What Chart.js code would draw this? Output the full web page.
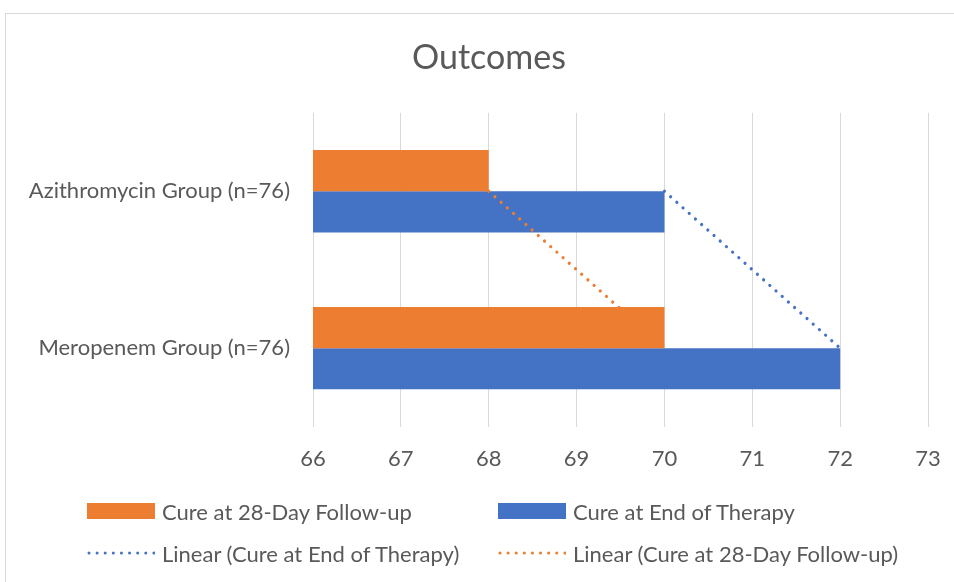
<!DOCTYPE html>
<html>
<head>
<meta charset="utf-8">
<script src="https://cdn.jsdelivr.net/npm/chart.js@4.4.1/dist/chart.umd.min.js"></script>
<style>
    html, body { margin: 0; padding: 0; background: #fff; overflow: hidden; }
    body { width: 954px; height: 582px; position: relative; font-family: Lato, sans-serif; }
    #box { position: absolute; left: 5px; top: 13px; width: 966px; height: 580px; border: 1px solid #d9d9d9; }
    #chart { position: absolute; left: 0; top: 0; }
    .item { position: absolute; height: 26px; display: flex; align-items: center; color: #595959; font-size: 22px; white-space: nowrap; }
    .item .swatch { width: 68px; height: 16px; margin-right: 7px; }
    .item svg { margin-right: 7px; }
</style>
</head>
<body>
<div id="box">
    <canvas id="chart" width="966" height="580"></canvas>
</div>
<div id="legend"></div>

<script>
// chart data
var categories = ['Azithromycin Group (n=76)', 'Meropenem Group (n=76)'];
var cureFollowUp = [68, 70];
var cureEndTherapy = [70, 72];
var xTicks = [66, 67, 68, 69, 70, 71, 72, 73];

var orange = '#ED7D31';
var blue = '#4472C4';
var grey = '#595959';

// linear trend of a series over the category positions (least squares)
function linearTrend(values) {
    var n = values.length, sx = 0, sy = 0, sxy = 0, sxx = 0;
    for (var i = 0; i < n; i++) {
        sx += i; sy += values[i]; sxy += i * values[i]; sxx += i * i;
    }
    var slope = (n * sxy - sx * sy) / (n * sxx - sx * sx);
    var icpt = (sy - slope * sx) / n;
    return values.map(function (v, i) { return icpt + slope * i; });
}

var ctx = document.getElementById('chart').getContext('2d');
var chart = new Chart(ctx, {
    type: 'bar',
    data: {
        labels: categories,
        datasets: [
            {
                label: 'Linear (Cure at End of Therapy)',
                type: 'line',
                order: 0,
                data: linearTrend(cureEndTherapy),
                borderColor: blue,
                borderWidth: 3.2,
                borderDash: [0.01, 8.3],
                borderCapStyle: 'round',
                pointRadius: 0,
                fill: false
            },
            {
                label: 'Cure at 28-Day Follow-up',
                order: 1,
                data: cureFollowUp,
                backgroundColor: orange,
                barPercentage: 1,
                categoryPercentage: 0.525
            },
            {
                label: 'Linear (Cure at 28-Day Follow-up)',
                type: 'line',
                order: 2,
                data: linearTrend(cureFollowUp),
                borderColor: orange,
                borderWidth: 3.2,
                borderDash: [0.01, 8.3],
                borderCapStyle: 'round',
                pointRadius: 0,
                fill: false
            },
            {
                label: 'Cure at End of Therapy',
                order: 3,
                data: cureEndTherapy,
                backgroundColor: blue,
                barPercentage: 1,
                categoryPercentage: 0.525
            }
        ]
    },
    options: {
        indexAxis: 'y',
        responsive: false,
        animation: false,
        layout: { padding: { left: 0, right: 0, top: 0, bottom: 103 } },
        plugins: {
            legend: { display: false },
            tooltip: { enabled: false },
            title: {
                display: true,
                text: 'Outcomes',
                color: grey,
                font: { family: 'Lato', size: 34, weight: 'normal' },
                padding: { top: 24, bottom: 34 }
            }
        },
        scales: {
            x: {
                min: xTicks[0],
                max: xTicks[xTicks.length - 1],
                afterBuildTicks: function (scale) {
                    scale.ticks = xTicks.map(function (v) { return { value: v }; });
                },
                grid: { color: '#d9d9d9', lineWidth: 1, drawTicks: false },
                border: { display: false },
                ticks: {
                    color: grey,
                    padding: 19,
                    font: { family: 'Lato', size: 22 }
                }
            },
            y: {
                afterFit: function (scale) { scale.width = 307; },
                grid: { display: false, drawTicks: false },
                border: { display: false },
                ticks: {
                    color: grey,
                    padding: 23,
                    font: { family: 'Lato', size: 22 }
                }
            },
            // empty space on the right side of the plot, keeps the title centred on the whole box
            yRight: {
                type: 'category',
                position: 'right',
                grid: { display: false, drawTicks: false },
                border: { display: false },
                ticks: { display: false },
                afterFit: function (scale) { scale.width = 44; }
            }
        }
    }
});

// legend laid out in two columns like the original
var legendItems = [
    { text: 'Cure at 28-Day Follow-up', color: orange, kind: 'box', x: 87, y: 498 },
    { text: 'Cure at End of Therapy', color: blue, kind: 'box', x: 498, y: 498 },
    { text: 'Linear (Cure at End of Therapy)', color: blue, kind: 'dots', x: 87, y: 540 },
    { text: 'Linear (Cure at 28-Day Follow-up)', color: orange, kind: 'dots', x: 498, y: 540 }
];

var legend = document.getElementById('legend');
legendItems.forEach(function (it) {
    var el = document.createElement('div');
    el.className = 'item';
    el.style.left = it.x + 'px';
    el.style.top = it.y + 'px';
    var sample;
    if (it.kind === 'box') {
        sample = '<div class="swatch" style="background:' + it.color + '"></div>';
    } else {
        sample = '<svg width="68" height="16"><line x1="2" y1="8" x2="67" y2="8" stroke="' + it.color +
            '" stroke-width="3" stroke-linecap="round" stroke-dasharray="0.01 8.1"/></svg>';
    }
    el.innerHTML = sample + '<span>' + it.text + '</span>';
    legend.appendChild(el);
});
</script>
</body>
</html>
